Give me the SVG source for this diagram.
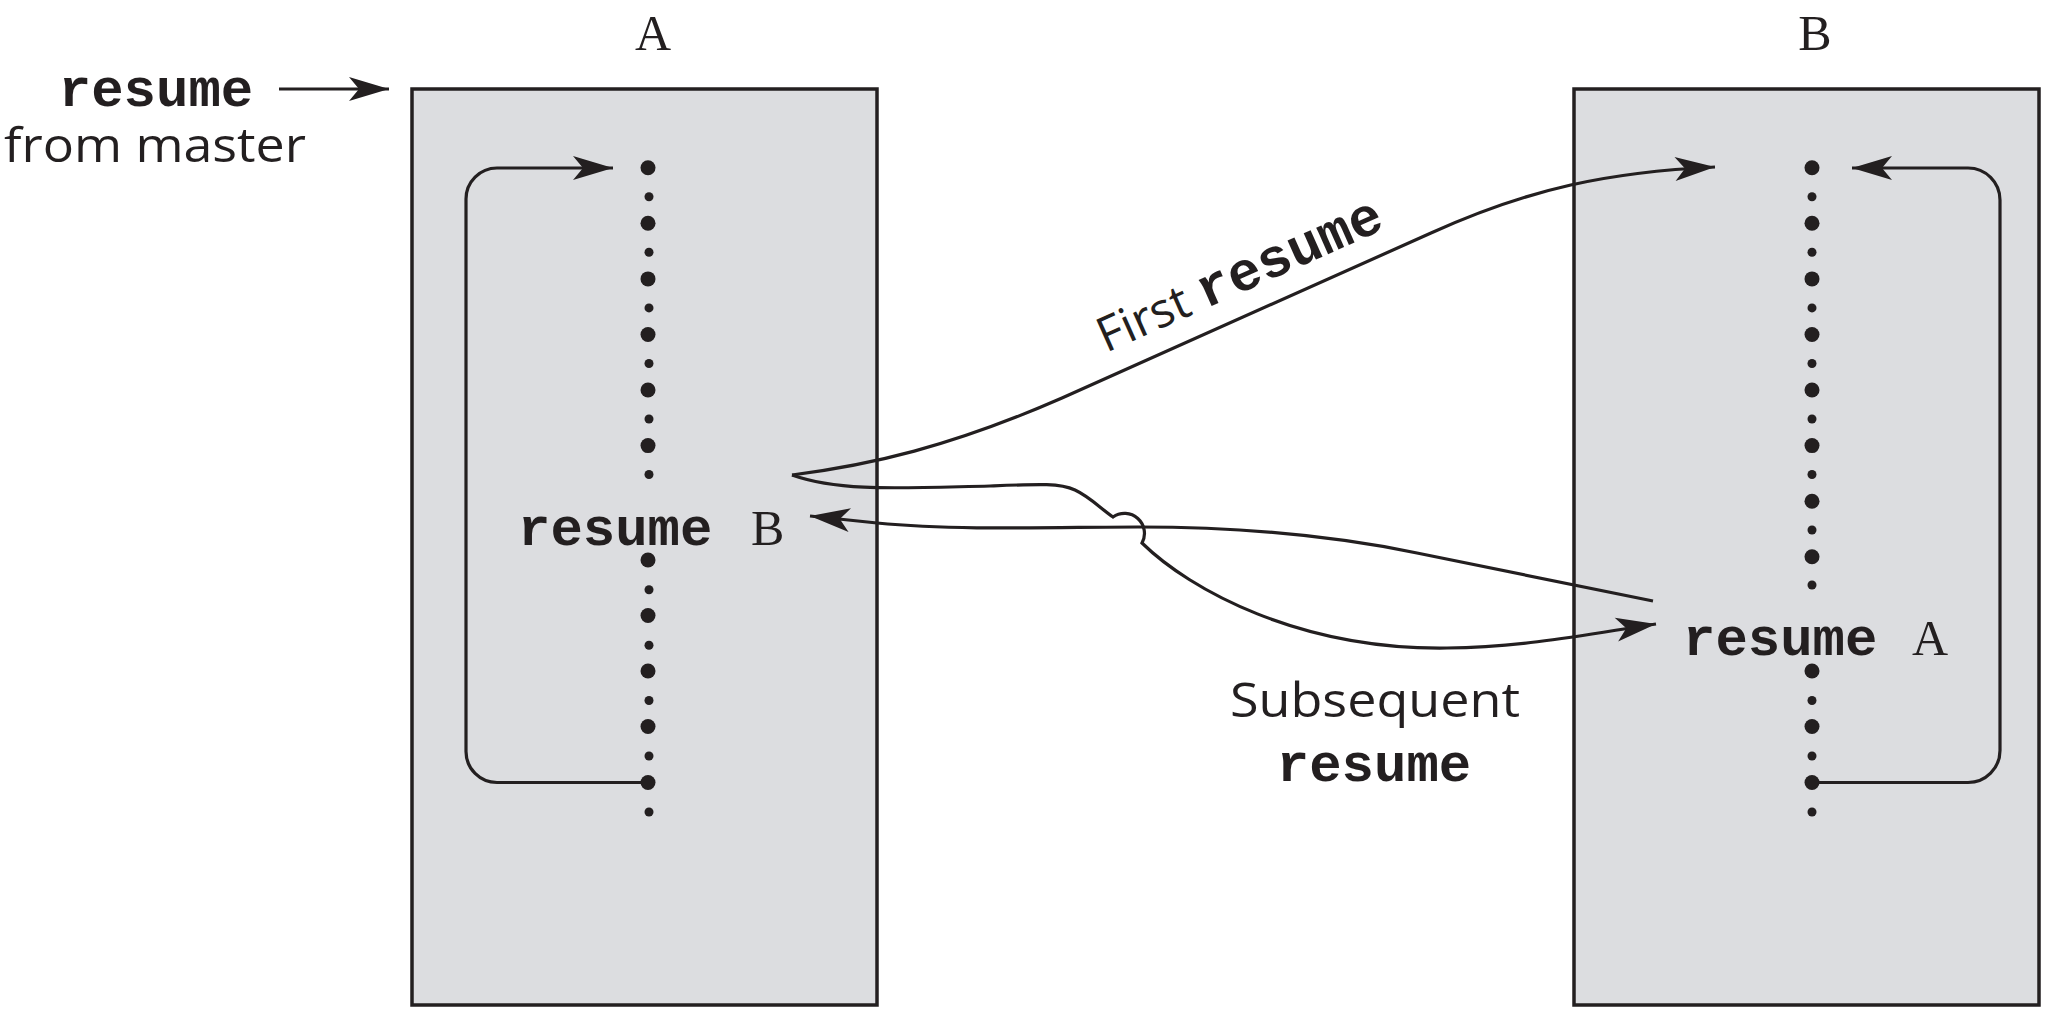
<svg xmlns="http://www.w3.org/2000/svg" width="2048" height="1013" viewBox="0 0 2048 1013">
<style>
.box{fill:#dcdde0;stroke:#231f20;stroke-width:3.5}
.ln{fill:none;stroke:#231f20;stroke-width:3.2}
.big{fill:#231f20}
.mono{font-family:"Liberation Mono","Courier New",monospace;fill:#231f20}
.code{font-weight:bold;font-size:54px}
.lbl{font-family:"Liberation Serif","Times New Roman",serif;font-weight:normal;font-size:50px;fill:#231f20}
.sans{font-family:"Open Sans","Noto Sans",sans-serif;font-size:48px;fill:#231f20}
</style>
<defs>
<marker id="ah" markerUnits="userSpaceOnUse" viewBox="-42 -14 44 28" refX="0" refY="0" markerWidth="44" markerHeight="28" orient="auto" overflow="visible">
<path d="M0,0 L-40,-12 L-30,0 L-40,12 Z" fill="#231f20"/>
</marker>
</defs>
<rect width="2048" height="1013" fill="#ffffff"/>

<g id="coroutineA">
<rect class="box" x="412" y="89" width="465" height="916"/>
<text class="lbl" x="653" y="50" text-anchor="middle">A</text>
<g class="big">
<circle cx="648" cy="167.7" r="7.5"/><circle cx="649" cy="196.7" r="4.5"/>
<circle cx="648" cy="223.3" r="7.5"/><circle cx="649" cy="252.3" r="4.5"/>
<circle cx="648" cy="278.9" r="7.5"/><circle cx="649" cy="307.9" r="4.5"/>
<circle cx="648" cy="334.5" r="7.5"/><circle cx="649" cy="363.5" r="4.5"/>
<circle cx="648" cy="390" r="7.5"/><circle cx="649" cy="419" r="4.5"/>
<circle cx="648" cy="445.6" r="7.5"/><circle cx="649" cy="474.5" r="4.5"/>
<circle cx="648" cy="560" r="7.5"/><circle cx="649" cy="589.7" r="4.5"/>
<circle cx="648" cy="615.5" r="7.5"/><circle cx="649" cy="645.3" r="4.5"/>
<circle cx="648" cy="671" r="7.5"/><circle cx="649" cy="700.5" r="4.5"/>
<circle cx="648" cy="726.5" r="7.5"/><circle cx="649" cy="756" r="4.5"/>
<circle cx="648" cy="782.5" r="7.5"/><circle cx="649" cy="812" r="4.5"/>
</g>
<text class="mono code" x="518" y="545">resume</text>
<text class="lbl" x="751" y="545" font-size="46">B</text>
</g>

<g id="coroutineB">
<rect class="box" x="1574" y="89" width="465" height="916"/>
<text class="lbl" x="1815" y="50" text-anchor="middle">B</text>
<g class="big">
<circle cx="1812" cy="167.7" r="7.5"/><circle cx="1812" cy="196.7" r="4.5"/>
<circle cx="1812" cy="223.3" r="7.5"/><circle cx="1812" cy="252.3" r="4.5"/>
<circle cx="1812" cy="278.9" r="7.5"/><circle cx="1812" cy="307.9" r="4.5"/>
<circle cx="1812" cy="334.5" r="7.5"/><circle cx="1812" cy="363.5" r="4.5"/>
<circle cx="1812" cy="390" r="7.5"/><circle cx="1812" cy="419" r="4.5"/>
<circle cx="1812" cy="445.6" r="7.5"/><circle cx="1812" cy="474.5" r="4.5"/>
<circle cx="1812" cy="501.2" r="7.5"/><circle cx="1812" cy="530" r="4.5"/>
<circle cx="1812" cy="556.7" r="7.5"/><circle cx="1812" cy="585" r="4.5"/>
<circle cx="1812" cy="671" r="7.5"/><circle cx="1812" cy="700.5" r="4.5"/>
<circle cx="1812" cy="726.5" r="7.5"/><circle cx="1812" cy="756" r="4.5"/>
<circle cx="1812" cy="782.5" r="7.5"/><circle cx="1812" cy="812" r="4.5"/>
</g>
<text class="mono code" x="1683" y="655">resume</text>
<text class="lbl" x="1912" y="655" font-size="46">A</text>
</g>

<g id="master">
<text class="mono code" x="156" y="106" text-anchor="middle">resume</text>
<text class="sans" x="155" y="162" text-anchor="middle" font-size="53" textLength="302" lengthAdjust="spacingAndGlyphs">from master</text>
</g>

<g id="labels">
<text class="sans" font-size="50" transform="translate(1106,353) rotate(-24)">First <tspan class="mono" font-weight="bold" font-size="55">resume</tspan></text>
<text class="sans" x="1375" y="717" text-anchor="middle" textLength="290" lengthAdjust="spacingAndGlyphs">Subsequent</text>
<text class="mono code" x="1374" y="781" text-anchor="middle">resume</text>
</g>

<g id="connectors">
<path class="ln" d="M279,89 L389,89" marker-end="url(#ah)"/>
<path class="ln" d="M648,782.5 L497,782.5 A31,31 0 0 1 466,751.5 L466,199 A31,31 0 0 1 497,168 L613,168" marker-end="url(#ah)"/>
<path class="ln" d="M1812,782.5 L1968,782.5 A32,32 0 0 0 2000,750.5 L2000,200 A32,32 0 0 0 1968,168 L1852,168" marker-end="url(#ah)"/>
<path class="ln" d="M792,475 C870,465 950,447 1062,398 L1431,233 C1530,188 1610,172 1715,167" marker-end="url(#ah)"/>
<path class="ln" d="M792,475 C840,492 900,488 990,486 C1040,484 1060,483 1075,490 C1090,497 1100,508 1113,517 A20,20 0 0 1 1142,543 C1190,590 1300,650 1447,648 C1530,647 1600,632 1656,624" marker-end="url(#ah)"/>
<path class="ln" d="M1653,601 L1417,553 C1340,537 1250,527 1138,527 C1060,527 960,531 877,523 L810,516" marker-end="url(#ah)"/>
</g>
</svg>
